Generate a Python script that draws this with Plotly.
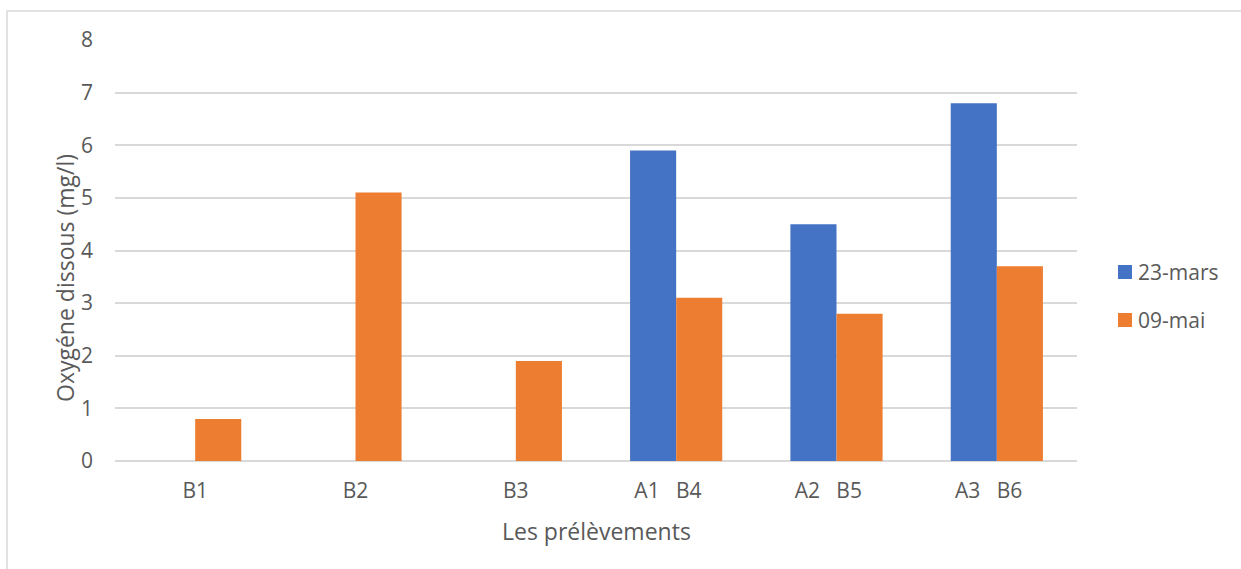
import plotly.graph_objects as go

# Sampling points (two sampling dates share the same x positions)
categories = ["B1", "B2", "B3", "A1   B4   ", "A2   B5   ", "A3   B6   "]
mars_23 = [None, None, None, 5.9, 4.5, 6.8]
mai_09 = [0.8, 5.1, 1.9, 3.1, 2.8, 3.7]
y_ticks = [0, 1, 2, 3, 4, 5, 6, 7, 8]
series = [("23-mars", mars_23, "#4472C4"), ("09-mai", mai_09, "#ED7D31")]

GRID = "#D9D9D9"
TEXT = "#595959"
FONT = "Open Sans"

W, H = 1241, 569
L, R, T, B = 115, 164, 40, 108
pw, ph = W - L - R, H - T - B


def px_x(p):
    return (p - L) / pw


def px_y(p):
    return (H - B - p) / ph


fig = go.Figure()
for name, vals, col in series:
    fig.add_trace(go.Bar(x=categories, y=vals, name=name,
                         marker=dict(color=col, line=dict(width=0))))

# legend: coloured square followed by the series name
shapes = []
annotations = []
for i, (name, _, col) in enumerate(series):
    yc = 272 + i * 48
    shapes.append(dict(type="rect", xref="paper", yref="paper",
                       x0=px_x(1118), x1=px_x(1132),
                       y0=px_y(yc + 7), y1=px_y(yc - 7),
                       line=dict(width=0), fillcolor=col))
    annotations.append(dict(text=name, xref="paper", yref="paper",
                            x=px_x(1136), y=px_y(yc), xanchor="left",
                            yanchor="middle", showarrow=False,
                            font=dict(family=FONT, size=21, color=TEXT)))

# axis titles
annotations.append(dict(text="Les prélèvements", xref="paper", yref="paper",
                        x=0.5, y=px_y(531), xanchor="center", yanchor="middle",
                        showarrow=False,
                        font=dict(family=FONT, size=23, color=TEXT)))
annotations.append(dict(text="Oxygéne dissous (mg/l)", xref="paper",
                        yref="paper", x=px_x(65), y=px_y(278),
                        xanchor="center", yanchor="middle", textangle=-90,
                        showarrow=False,
                        font=dict(family=FONT, size=23, color=TEXT)))

# outer chart border
shapes.append(dict(type="rect", xref="paper", yref="paper",
                   x0=px_x(7), x1=px_x(W + 10), y0=px_y(H + 10), y1=px_y(11),
                   line=dict(color=GRID, width=1.5),
                   fillcolor="rgba(0,0,0,0)", layer="below"))

fig.update_layout(
    width=W, height=H,
    margin=dict(l=L, r=R, t=T, b=B, pad=0),
    paper_bgcolor="white", plot_bgcolor="white",
    barmode="group", bargap=0.425, bargroupgap=0,
    font=dict(family=FONT, size=21, color=TEXT),
    showlegend=False,
    xaxis=dict(
        type="category", showgrid=False, showline=False, zeroline=False,
        ticks="", tickfont=dict(family=FONT, size=21, color=TEXT),
        ticklabelstandoff=15,
    ),
    yaxis=dict(
        range=[0, 8], tickvals=y_ticks, showgrid=True, gridcolor=GRID,
        gridwidth=1.5, zeroline=True, zerolinecolor=GRID, zerolinewidth=1.5,
        showline=False, ticks="", ticklabelstandoff=21,
        tickfont=dict(family=FONT, size=21, color=TEXT),
    ),
    shapes=shapes,
    annotations=annotations,
)

fig.write_html("out.html")
